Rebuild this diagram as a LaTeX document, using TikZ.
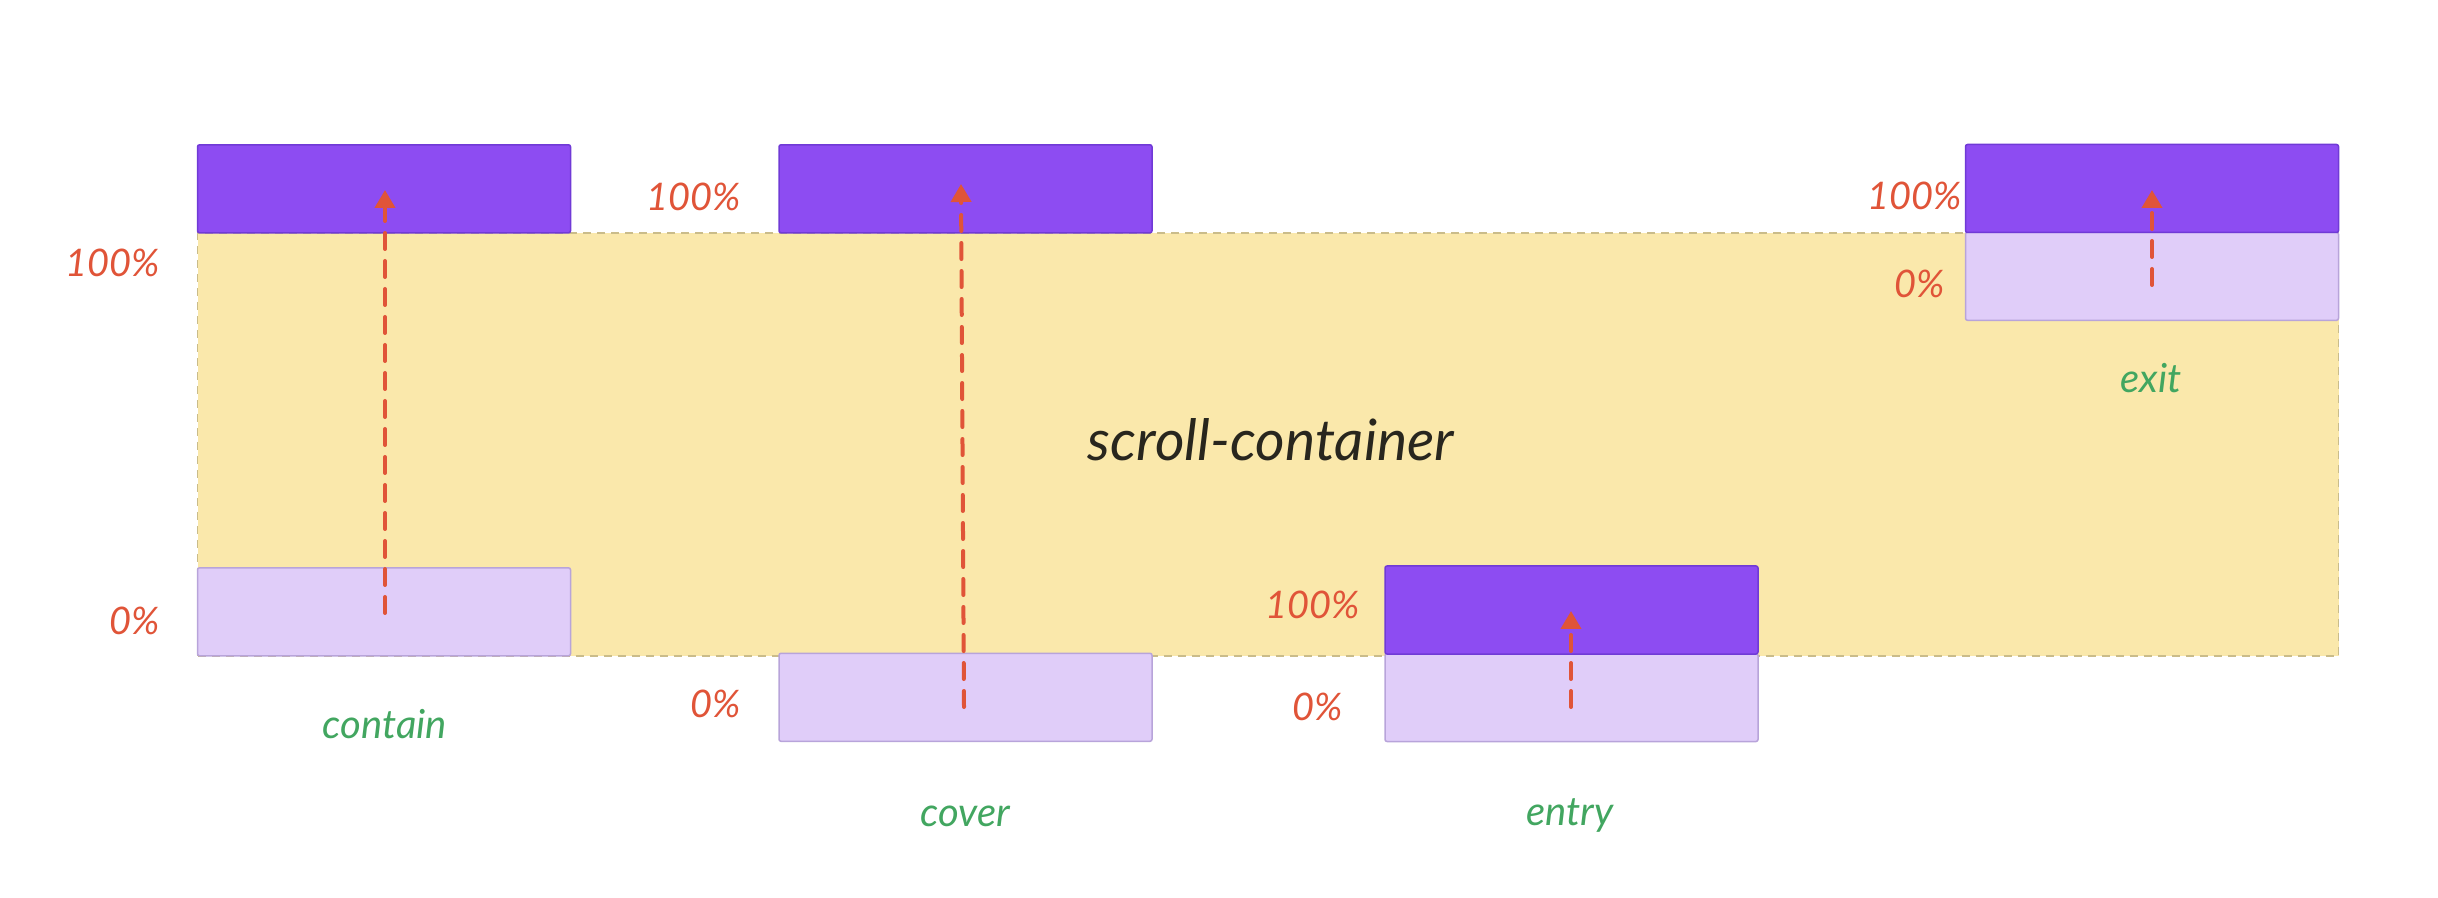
\documentclass[tikz,border=0pt]{standalone}
\usepackage{fontspec}
\newfontfamily\hand{Lato}
\usetikzlibrary{arrows.meta}

\definecolor{violetFill}{RGB}{141,76,242}
\definecolor{violetLine}{RGB}{112,58,214}
\definecolor{lilacFill}{RGB}{224,205,249}
\definecolor{lilacLine}{RGB}{184,164,218}
\definecolor{sandFill}{RGB}{250,232,171}
\definecolor{sandLine}{RGB}{202,188,138}
\definecolor{pctRed}{RGB}{224,84,56}
\definecolor{tagGreen}{RGB}{66,166,96}
\definecolor{inkDark}{RGB}{40,38,30}

\tikzset{
  px/.style={x=0.5pt,y=-0.5pt},
  tlbox/.style={rectangle,rounded corners=1pt,inner sep=0pt,outer sep=0pt,
    minimum width=186.5pt,minimum height=44pt,line width=0.75pt},
  fullbox/.style={tlbox,fill=violetFill,draw=violetLine},
  startbox/.style={tlbox,fill=lilacFill,draw=lilacLine},
  scroller/.style={rectangle,inner sep=0pt,outer sep=0pt,fill=sandFill,draw=sandLine,
    line width=0.7pt,dash pattern=on 4pt off 3pt},
  pct/.style={font=\hand\itshape\fontsize{19}{23}\selectfont,text=pctRed,
    anchor=base east,inner sep=0pt},
  tag/.style={font=\hand\itshape\fontsize{20}{24}\selectfont,text=tagGreen,
    anchor=base,inner sep=0pt},
  progress/.style={draw=pctRed,line width=2pt,line cap=round,
    dash pattern=on 8pt off 6pt,-{Triangle[width=10pt,length=9pt]}},
}

\begin{document}
\begin{tikzpicture}[px]
\useasboundingbox (0,0) rectangle (2438,898);

% the scrolling viewport
\node[scroller,minimum width=1070.5pt,minimum height=211.5pt] (sc) at (1268,444.5) {};
\node[font=\hand\itshape\fontsize{28.5}{34}\selectfont,text=inkDark,anchor=base,inner sep=0pt]
  (sclabel) at (1271,461) {scroll-container};

% contain
\node[fullbox]  (containEnd)   at (384,188.8) {};
\node[startbox] (containStart) at (384,611.8) {};
\node[pct] (containHi) at (160,277) {100\%};
\node[pct] (containLo) at (160,634) {0\%};
\node[tag] (containTag) at (385,738) {contain};
\coordinate (containA) at (385,613);
\coordinate (containB) at (385,190);
\draw[progress] (containA) -- (containB);

% cover
\node[fullbox]  (coverEnd)   at (965.5,188.8) {};
\node[startbox] (coverStart) at (965.5,697.3) {};
\node[pct] (coverHi) at (741,211) {100\%};
\node[pct] (coverLo) at (741,718) {0\%};
\node[tag] (coverTag) at (965.5,826) {cover};
\coordinate (coverA) at (964,707);
\coordinate (coverB) at (961,184);
\draw[progress] (coverA) -- (coverB);

% entry
\node[startbox] (entryStart) at (1571.5,697.5) {};
\node[fullbox]  (entryEnd)   at (1571.5,610) {};
\node[pct] (entryHi) at (1360,618) {100\%};
\node[pct] (entryLo) at (1343,720) {0\%};
\node[tag] (entryTag) at (1570,825) {entry};
\coordinate (entryA) at (1571,707);
\coordinate (entryB) at (1571,611);
\draw[progress] (entryA) -- (entryB);

% exit
\node[startbox] (exitStart) at (2152,276.3) {};
\node[fullbox]  (exitEnd)   at (2152,188.5) {};
\node[pct] (exitHi) at (1962,210) {100\%};
\node[pct] (exitLo) at (1945,298) {0\%};
\node[tag] (exitTag) at (2151,393) {exit};
\coordinate (exitA) at (2152,285);
\coordinate (exitB) at (2152,190);
\draw[progress] (exitA) -- (exitB);
\end{tikzpicture}
\end{document}
